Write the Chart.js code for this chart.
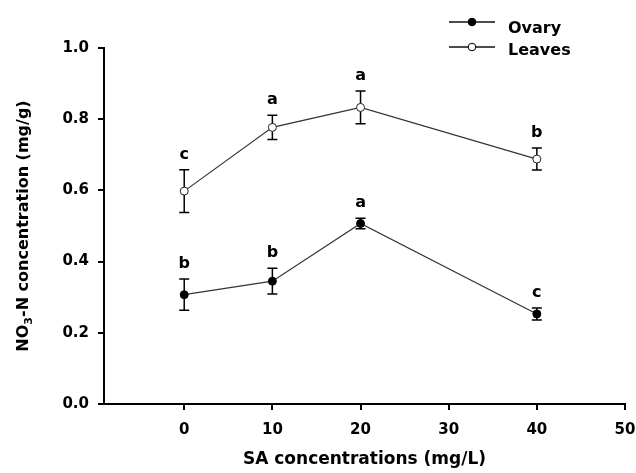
<!DOCTYPE html>
<html>
<head>
<meta charset="utf-8">
<script src="https://cdn.jsdelivr.net/npm/chart.js@4.4.1/dist/chart.umd.min.js"></script>
<style>
  html, body { margin: 0; padding: 0; background: #fff; }
  #chart { display: block; }
</style>
</head>
<body>
<canvas id="chart" width="636" height="473"></canvas>
<script>
// values
const saLevels = [0, 10, 20, 40];
const ovaryMeans = [0.307, 0.345, 0.507, 0.253];
const ovaryErrors = [0.044, 0.036, 0.015, 0.017];
const ovaryLetters = ['b', 'b', 'a', 'c'];
const leavesMeans = [0.598, 0.777, 0.833, 0.688];
const leavesErrors = [0.060, 0.034, 0.046, 0.031];
const leavesLetters = ['c', 'a', 'a', 'b'];
const xTicks = [0, 10, 20, 30, 40, 50];
const yTicks = [0, 0.2, 0.4, 0.6, 0.8, 1.0];

const FONT = '"DejaVu Sans", "Liberation Sans", Arial, sans-serif';

function toPoints(means) {
    return saLevels.map((x, i) => ({ x: x, y: means[i] }));
}

// error bars, significance letters, legend and axis titles
const extras = {
    id: 'extras',
    beforeDatasetsDraw(chart) {
        const ctx = chart.ctx;
        const xs = chart.scales.x, ys = chart.scales.y;
        ctx.save();
        ctx.strokeStyle = '#000';
        ctx.lineWidth = 1.5;
        [[ovaryMeans, ovaryErrors], [leavesMeans, leavesErrors]].forEach(function (pair) {
            pair[0].forEach(function (m, i) {
                const px = xs.getPixelForValue(saLevels[i]);
                const top = ys.getPixelForValue(m + pair[1][i]);
                const bot = ys.getPixelForValue(m - pair[1][i]);
                ctx.beginPath();
                ctx.moveTo(px, top); ctx.lineTo(px, bot);
                ctx.moveTo(px - 5, top); ctx.lineTo(px + 5, top);
                ctx.moveTo(px - 5, bot); ctx.lineTo(px + 5, bot);
                ctx.stroke();
            });
        });
        ctx.restore();
    },
    afterDraw(chart) {
        const ctx = chart.ctx;
        const xs = chart.scales.x, ys = chart.scales.y;
        const area = chart.chartArea;
        ctx.save();
        ctx.fillStyle = '#000';

        // letters above the error bars
        ctx.font = 'bold 16px ' + FONT;
        ctx.textAlign = 'center';
        ctx.textBaseline = 'alphabetic';
        [[ovaryMeans, ovaryErrors, ovaryLetters], [leavesMeans, leavesErrors, leavesLetters]].forEach(function (s) {
            s[0].forEach(function (m, i) {
                const px = xs.getPixelForValue(saLevels[i]);
                const top = ys.getPixelForValue(m + s[1][i]);
                ctx.fillText(s[2][i], px, top - 11);
            });
        });

        // x title
        ctx.font = 'bold 17px ' + FONT;
        ctx.textAlign = 'center';
        ctx.fillText('SA concentrations (mg/L)', (area.left + area.right) / 2, 464);

        // y title with subscript
        const big = 'bold 16px ' + FONT, small = 'bold 11px ' + FONT;
        const parts = [['NO', big, 0], ['3', small, 4], ['-N concentration (mg/g)', big, 0]];
        let total = 0;
        parts.forEach(function (p) { ctx.font = p[1]; total += ctx.measureText(p[0]).width; });
        ctx.translate(28, (area.top + area.bottom) / 2);
        ctx.rotate(-Math.PI / 2);
        ctx.textAlign = 'left';
        let cx = -total / 2;
        parts.forEach(function (p) {
            ctx.font = p[1];
            ctx.fillText(p[0], cx, p[2]);
            cx += ctx.measureText(p[0]).width;
        });
        ctx.setTransform(1, 0, 0, 1, 0, 0);

        // legend
        const items = [['Ovary', '#000', 22, 33], ['Leaves', '#fff', 47, 55]];
        ctx.font = 'bold 16px ' + FONT;
        items.forEach(function (it) {
            ctx.strokeStyle = '#111';
            ctx.lineWidth = 1.3;
            ctx.beginPath();
            ctx.moveTo(449, it[2]); ctx.lineTo(495, it[2]);
            ctx.stroke();
            ctx.beginPath();
            ctx.arc(472, it[2], 3.8, 0, Math.PI * 2);
            ctx.fillStyle = it[1];
            ctx.fill();
            ctx.lineWidth = 1;
            ctx.strokeStyle = '#000';
            ctx.stroke();
            ctx.fillStyle = '#000';
            ctx.fillText(it[0], 508, it[3]);
        });
        ctx.restore();
    }
};

new Chart(document.getElementById('chart'), {
    type: 'line',
    data: {
        datasets: [{
            label: 'Ovary',
            data: toPoints(ovaryMeans),
            borderColor: '#333',
            borderWidth: 1.2,
            pointRadius: 4,
            pointBackgroundColor: '#000',
            pointBorderColor: '#000',
            pointBorderWidth: 1
        }, {
            label: 'Leaves',
            data: toPoints(leavesMeans),
            borderColor: '#333',
            borderWidth: 1.2,
            pointRadius: 4,
            pointBackgroundColor: '#fff',
            pointBorderColor: '#222',
            pointBorderWidth: 1
        }]
    },
    options: {
        responsive: false,
        animation: false,
        layout: { padding: { top: 48, right: 11, left: 0, bottom: 0 } },
        plugins: {
            legend: { display: false },
            tooltip: { enabled: false }
        },
        scales: {
            x: {
                type: 'linear',
                min: -9.1,
                max: 50,
                afterBuildTicks: function (scale) {
                    scale.ticks = xTicks.map(v => ({ value: v }));
                },
                afterFit: function (scale) {
                    scale.height = 69;
                    scale.paddingLeft = 0;
                    scale.paddingRight = 0;
                },
                grid: { drawOnChartArea: false, drawTicks: true, tickLength: 6, color: '#000', lineWidth: 2 },
                border: { display: true, color: '#000', width: 2 },
                ticks: {
                    color: '#000',
                    padding: 11,
                    maxRotation: 0,
                    font: { family: FONT, size: 15, weight: 'bold' },
                    callback: v => String(v)
                }
            },
            y: {
                type: 'linear',
                min: 0,
                max: 1,
                afterBuildTicks: function (scale) {
                    scale.ticks = yTicks.map(v => ({ value: v }));
                },
                afterFit: function (scale) {
                    scale.width = 104;
                    scale.paddingTop = 0;
                    scale.paddingBottom = 0;
                },
                grid: { drawOnChartArea: false, drawTicks: true, tickLength: 6, color: '#000', lineWidth: 2 },
                border: { display: true, color: '#000', width: 2 },
                ticks: {
                    color: '#000',
                    padding: 9,
                    font: { family: FONT, size: 15, weight: 'bold' },
                    callback: v => v.toFixed(1)
                }
            }
        }
    },
    plugins: [extras]
});
</script>
</body>
</html>
